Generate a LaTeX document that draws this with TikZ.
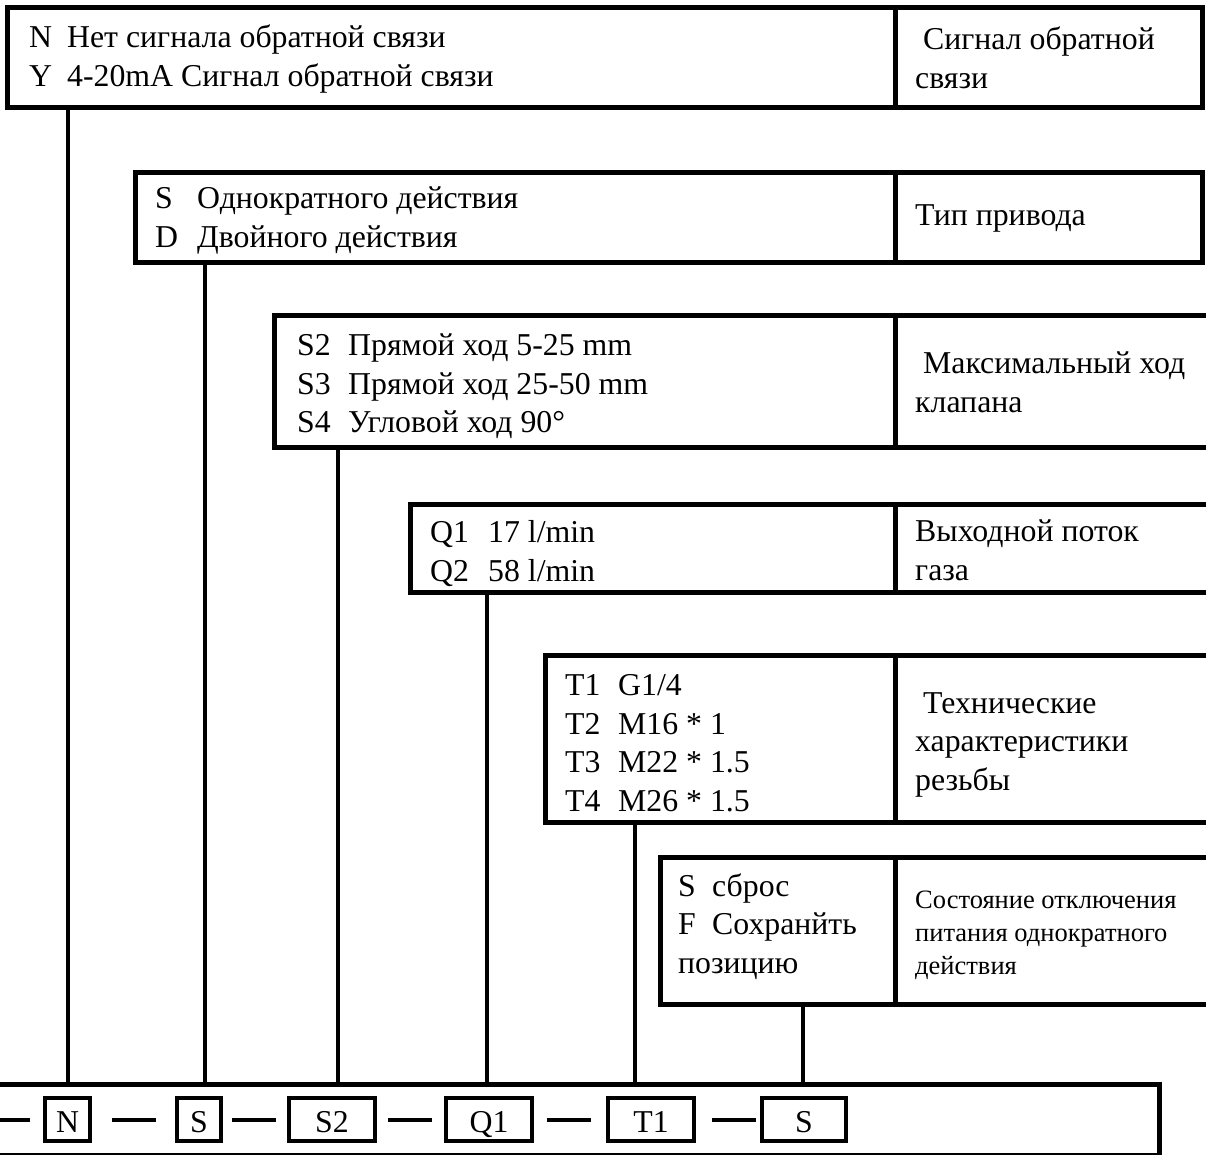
\documentclass[tikz,border=0pt]{standalone}
\usepackage{fontspec}
\setmainfont{Liberation Serif}
\begin{document}
\begin{tikzpicture}[x=1pt,y=-1pt,
  frame/.style={line width=5pt, line cap=rect, line join=miter},
  link/.style={line width=4pt},
  dashseg/.style={line width=4pt},
  txt/.style={anchor=base west, inner sep=0pt, font=\fontsize{31.8}{36}\selectfont},
  small/.style={anchor=base west, inner sep=0pt, font=\fontsize{26.5}{30}\selectfont},
  codebox/.style={draw, line width=4.5pt, minimum height=43pt, inner sep=0pt,
    text height=25pt, text depth=0pt, font=\fontsize{31.8}{36}\selectfont}]
\useasboundingbox (0,0) rectangle (1206,1155);
\path[clip] (0,0) rectangle (1206,1155);

% ---------- box 1
\draw[frame] (7.5,7.5) rectangle (1202,107.5);
\draw[frame] (895,7.5) -- (895,107.5);
\node[txt] (b1a) at (29,48) {\makebox[38pt][l]{N}Нет сигнала обратной связи};
\node[txt] (b1b) at (29,86.5) {\makebox[38pt][l]{Y}4-20mA Сигнал обратной связи};
\node[txt] (b1r1) at (915,50) {\ Сигнал обратной};
\node[txt] (b1r2) at (915,89) {связи};
\coordinate (c1) at (67.5,107.5);

% ---------- box 2
\draw[frame] (135,172.5) rectangle (1202,262.5);
\draw[frame] (895,172.5) -- (895,262.5);
\node[txt] (b2a) at (155,209) {\makebox[42pt][l]{S}Однократного действия};
\node[txt] (b2b) at (155,248) {\makebox[42pt][l]{D}Двойного действия};
\node[txt] (b2r) at (915,226) {Тип привода};
\coordinate (c2) at (205,262.5);

% ---------- box 3
\draw[frame] (1215,315) -- (274,315) -- (274,447) -- (1215,447);
\draw[frame] (895,315) -- (895,447);
\node[txt] (b3a) at (297,355.5) {\makebox[51pt][l]{S2}Прямой ход 5-25 mm};
\node[txt] (b3b) at (297,394) {\makebox[51pt][l]{S3}Прямой ход 25-50 mm};
\node[txt] (b3c) at (297,432.5) {\makebox[51pt][l]{S4}Угловой ход 90°};
\node[txt] (b3r1) at (915,373) {\ Максимальный ход};
\node[txt] (b3r2) at (915,412) {клапана};
\coordinate (c3) at (338,447);

% ---------- box 4
\draw[frame] (1215,504.5) -- (410.5,504.5) -- (410.5,592.5) -- (1215,592.5);
\draw[frame] (895,504.5) -- (895,592.5);
\node[txt] (b4a) at (430,542.5) {\makebox[58pt][l]{Q1}17 l/min};
\node[txt] (b4b) at (430,581) {\makebox[58pt][l]{Q2}58 l/min};
\node[txt] (b4r1) at (915,541) {Выходной поток};
\node[txt] (b4r2) at (915,580) {газа};
\coordinate (c4) at (487,592.5);

% ---------- box 5
\draw[frame] (1215,655.5) -- (545.5,655.5) -- (545.5,822.5) -- (1215,822.5);
\draw[frame] (895,655.5) -- (895,822.5);
\node[txt] (b5a) at (565,695.5) {\makebox[53pt][l]{T1}G1/4};
\node[txt] (b5b) at (565,734) {\makebox[53pt][l]{T2}M16 * 1};
\node[txt] (b5c) at (565,772.5) {\makebox[53pt][l]{T3}M22 * 1.5};
\node[txt] (b5d) at (565,811) {\makebox[53pt][l]{T4}M26 * 1.5};
\node[txt] (b5r1) at (915,713) {\ Технические};
\node[txt] (b5r2) at (915,751.5) {характеристики};
\node[txt] (b5r3) at (915,790) {резьбы};
\coordinate (c5) at (635,822.5);

% ---------- box 6
\draw[frame] (1215,857.5) -- (660,857.5) -- (660,1004.5) -- (1215,1004.5);
\draw[frame] (895,857.5) -- (895,1004.5);
\node[txt] (b6a) at (678,896) {\makebox[34pt][l]{S}сброс};
\node[txt] (b6b) at (678,934.5) {\makebox[34pt][l]{F}Сохранйть};
\node[txt] (b6c) at (678,973) {позицию};
\node[small] (b6r1) at (915,908.5) {Состояние отключения};
\node[small] (b6r2) at (915,941.5) {питания однократного};
\node[small] (b6r3) at (915,974) {действия};
\coordinate (c6) at (803,1004.5);

% ---------- bottom frame
\coordinate (ftop) at (0,1084);
\draw[frame] (-5,1084) -- (1159,1084) -- (1159,1160);
\draw[line width=2pt] (-5,1153.5) -- (1159,1153.5);

% ---------- connectors
\foreach \c in {c1,c2,c3,c4,c5,c6}
  \draw[link] (\c) -- (\c |- ftop);

% ---------- code boxes
\node[codebox, minimum width=45pt] (kN) at (67.5,1119.5) {N};
\node[codebox, minimum width=44pt] (kS) at (199,1119.5) {S};
\node[codebox, minimum width=86pt] (kS2) at (332,1119.5) {S2};
\node[codebox, minimum width=86pt] (kQ1) at (489,1119.5) {Q1};
\node[codebox, minimum width=86pt] (kT1) at (651,1119.5) {T1};
\node[codebox, minimum width=84pt] (kS6) at (804,1119.5) {S};

% ---------- dashes
\draw[dashseg] (0,1120) -- (30,1120);
\draw[dashseg] (112,1120) -- (156,1120);
\draw[dashseg] (232,1120) -- (276,1120);
\draw[dashseg] (388,1120) -- (432,1120);
\draw[dashseg] (547,1120) -- (591,1120);
\draw[dashseg] (712,1120) -- (756,1120);
\end{tikzpicture}
\end{document}
